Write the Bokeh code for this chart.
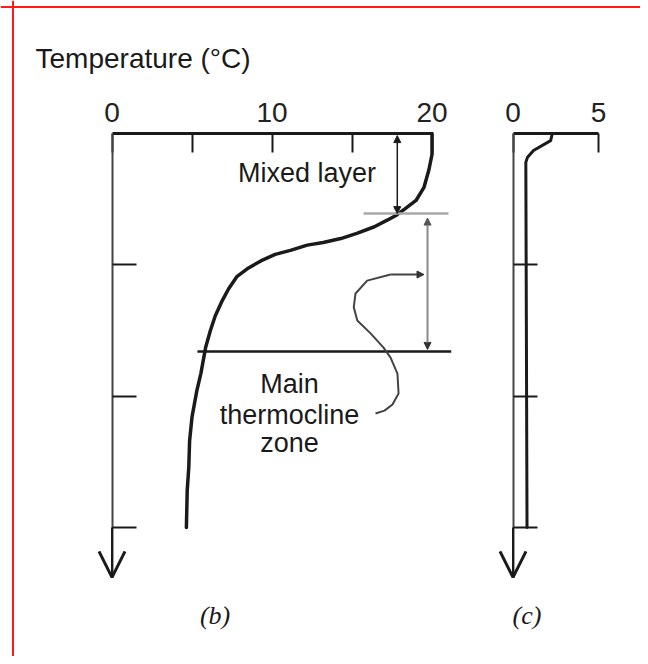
from bokeh.plotting import figure
from bokeh.models import Range1d, LinearAxis, FixedTicker, Arrow, OpenHead, NormalHead, Span
from bokeh.core.properties import value
from bokeh.embed import file_html
from bokeh.resources import INLINE

# ---------------- data ----------------
# panel (b): temperature profile, mid latitudes
temp_b = [20.0, 20.0, 19.8, 19.5, 19.0, 18.35, 17.8, 17.2, 16.4, 15.3, 14.3, 13.2, 12.2,
          11.15, 10.2, 9.3, 8.45, 7.8, 7.3, 6.9, 6.45, 6.15, 5.85, 5.55, 5.3, 5.0, 4.85,
          4.8, 4.7, 4.65]
depth_b = [0, 80, 140, 205, 255, 285, 310, 330, 355, 380, 400, 415, 425, 445, 460, 485,
           515, 545, 590, 635, 695, 750, 815, 915, 980, 1080, 1170, 1270, 1360, 1500]
# panel (c): temperature profile, high latitudes
temp_c = [2.3, 2.2, 1.2, 0.85, 0.75, 0.78, 0.82]
depth_c = [0, 27, 65, 90, 110, 700, 1500]

temp_major_b = [0, 10, 20]
temp_minor_b = [5, 15]
temp_major_c = [0, 5]
depth_ticks = [500, 1000, 1500]
depth_max = 1690

# annotations (data units)
mixed_layer_depth = 305
mixed_layer_temp = 17.83
mixed_line_t = [15.72, 21.03]
thermo_arrow_t = 19.72
thermo_arrow_d = [322, 822]
thermo_base_depth = 830
thermo_base_t = [5.34, 21.2]
pointer_t = [16.47, 17.03, 17.53, 17.91, 17.84, 17.41, 16.97, 16.16, 15.33, 15.11, 15.22, 15.95, 17.41]
pointer_d = [1066, 1055, 1032, 990, 914, 853, 815, 761, 712, 661, 609, 560, 537]
pointer_tip_t = 19.5

title_text = "Temperature (°C)"
note_text = ["Mixed layer", "Main", "thermocline", "zone"]
note_t = [12.19, 11.09, 11.09, 11.09]
note_d = [152, 952, 1070, 1180]
panel_text = ["(b)", "(c)"]
panel_text_d = 1836

# ---------------- layout ----------------
W, H = 640, 656
X0_B, SX_B = 111.5, 16.0      # px of 0 degC (b) and px per degC
X0_C, SX_C = 512.5, 17.1      # px of 0 degC (c) and px per degC
Y0, SY = 133.0, 394.0 / 1500  # px of depth 0 and px per m
INK = "#1a1a1a"
FONT = "Liberation Sans"

p = figure(width=W, height=H,
           x_range=Range1d(-X0_B / SX_B, (W - X0_B) / SX_B),
           y_range=Range1d((H - Y0) / SY, -Y0 / SY),
           output_backend="svg", toolbar_location=None,
           x_axis_location=None, y_axis_location=None, min_border=0)
p.extra_x_ranges = {"c": Range1d(-X0_C / SX_C, (W - X0_C) / SX_C)}
p.outline_line_color = None
p.background_fill_color = "white"
p.border_fill_color = "white"
p.grid.visible = False

# red frame of the reference (top and left edges)
p.add_layout(Span(location=(6.5 - Y0) / SY, dimension="width", line_color="#ff1a1a", line_width=2))
p.add_layout(Span(location=(12.5 - X0_B) / SX_B, dimension="height", line_color="#ff1a1a", line_width=2))


def style(ax, lw, tick, color=INK):
    ax.axis_line_color = color
    ax.axis_line_width = lw
    ax.major_tick_in = tick
    ax.major_tick_out = 0
    ax.major_tick_line_width = 2
    ax.major_tick_line_color = INK
    ax.minor_tick_in = tick
    ax.minor_tick_out = 0
    ax.minor_tick_line_width = 2
    ax.minor_tick_line_color = INK
    ax.major_label_text_font = FONT
    ax.major_label_text_font_size = "28px"
    ax.major_label_text_color = "#222222"
    ax.major_label_standoff = 12


top_b = LinearAxis(fixed_location=0, bounds=(0, 20),
                   ticker=FixedTicker(ticks=temp_major_b, minor_ticks=temp_minor_b))
style(top_b, 3, 19)
p.add_layout(top_b, "above")

top_c = LinearAxis(x_range_name="c", fixed_location=0, bounds=(0, 5),
                   ticker=FixedTicker(ticks=temp_major_c))
style(top_c, 3, 19)
p.add_layout(top_c, "above")

for rn in ("default", "c"):
    left = LinearAxis(x_range_name=rn, fixed_location=0, bounds=(0, depth_max),
                      ticker=FixedTicker(ticks=depth_ticks))
    style(left, 2, 24, color="#444444")
    left.major_label_text_color = None
    p.add_layout(left, "left")
    p.add_layout(Arrow(x_range_name=rn, x_start=0, y_start=depth_ticks[-1], x_end=0, y_end=depth_max,
                       line_color=INK, line_width=2,
                       end=OpenHead(size=26, line_width=3, line_color=INK)))

# profiles
p.line(temp_b, depth_b, line_width=3.5, line_color=INK, line_join="round", line_cap="round")
p.line(temp_c, depth_c, x_range_name="c", line_width=3, line_color=INK, line_join="round", line_cap="round")

# mixed layer marks
p.add_layout(Arrow(x_start=mixed_layer_temp, y_start=8, x_end=mixed_layer_temp, y_end=mixed_layer_depth,
                   line_color=INK, line_width=1.5,
                   start=NormalHead(size=7, line_color=INK, fill_color=INK),
                   end=NormalHead(size=7, line_color=INK, fill_color=INK)))
p.line(mixed_line_t, [mixed_layer_depth, mixed_layer_depth], line_color="#a8a8a8", line_width=2.5)

# thermocline marks
p.add_layout(Arrow(x_start=thermo_arrow_t, y_start=thermo_arrow_d[0], x_end=thermo_arrow_t, y_end=thermo_arrow_d[1],
                   line_color="#8a8a8a", line_width=2,
                   start=NormalHead(size=7, line_color="#555555", fill_color="#555555"),
                   end=NormalHead(size=7, line_color="#333333", fill_color="#333333")))
p.line(thermo_base_t, [thermo_base_depth, thermo_base_depth], line_color=INK, line_width=2.5)
p.line(pointer_t, pointer_d, line_color="#444444", line_width=2, line_join="round")
p.add_layout(Arrow(x_start=pointer_t[-1], y_start=pointer_d[-1], x_end=pointer_tip_t, y_end=pointer_d[-1],
                   line_color="#444444", line_width=2,
                   end=NormalHead(size=7, line_color="#333333", fill_color="#333333")))

# texts
p.text(x=[-4.78], y=[-285], text=[title_text], text_font=value(FONT), text_font_size="28px",
       text_align="left", text_baseline="alphabetic", text_color=INK)
p.text(x=note_t, y=note_d, text=note_text, text_font=value(FONT), text_font_size="27px",
       text_align="center", text_baseline="alphabetic", text_color=INK)
p.text(x=[6.44], y=[panel_text_d], text=[panel_text[0]], text_font=value("Liberation Serif"),
       text_font_style="italic", text_font_size="26px", text_align="center", text_baseline="alphabetic",
       text_color=INK)
p.text(x=[0.82], y=[panel_text_d], text=[panel_text[1]], x_range_name="c", text_font=value("Liberation Serif"),
       text_font_style="italic", text_font_size="26px", text_align="center", text_baseline="alphabetic",
       text_color=INK)

open("out.html", "w").write(file_html(p, INLINE))
